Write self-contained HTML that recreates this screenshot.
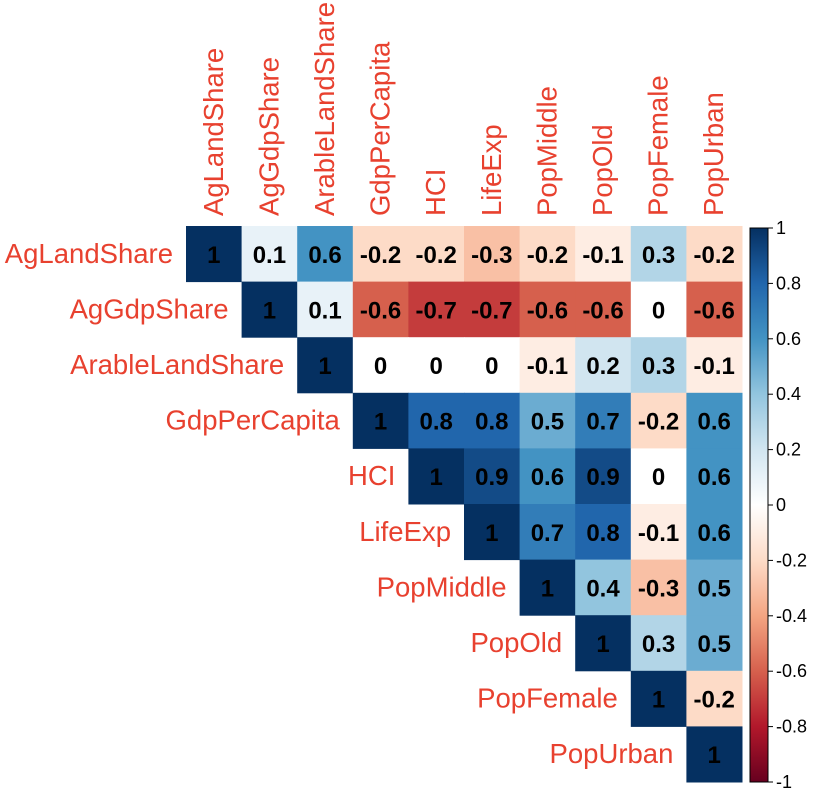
<!DOCTYPE html>
<html><head><meta charset="utf-8"><style>
html,body{margin:0;padding:0;background:#fff;width:820px;height:796px;overflow:hidden}
svg{display:block;font-family:"Liberation Sans",Arial,sans-serif}
</style></head><body>
<svg id="chart" width="820" height="796" viewBox="0 0 820 796"></svg>
<script>
const variables=["AgLandShare","AgGdpShare","ArableLandShare","GdpPerCapita","HCI","LifeExp","PopMiddle","PopOld","PopFemale","PopUrban"];
const row0=[1,0.1,0.6,-0.2,-0.2,-0.3,-0.2,-0.1,0.3,-0.2];
const row1=[1,0.1,-0.6,-0.7,-0.7,-0.6,-0.6,0,-0.6];
const row2=[1,0,0,0,-0.1,0.2,0.3,-0.1];
const row3=[1,0.8,0.8,0.5,0.7,-0.2,0.6];
const row4=[1,0.9,0.6,0.9,0,0.6];
const row5=[1,0.7,0.8,-0.1,0.6];
const row6=[1,0.4,-0.3,0.5];
const row7=[1,0.3,0.5];
const row8=[1,-0.2];
const row9=[1];
const rows=[row0,row1,row2,row3,row4,row5,row6,row7,row8,row9];
const legendTicks=[1,0.8,0.6,0.4,0.2,0,-0.2,-0.4,-0.6,-0.8,-1];
const pal=["#67001F","#B2182B","#D6604D","#F4A582","#FDDBC7","#FFFFFF","#D1E5F0","#92C5DE","#4393C3","#2166AC","#053061"];
function hex(h){return [1,3,5].map(i=>parseInt(h.substr(i,2),16));}
function color(v){const t=(v+1)/2*10;const i=Math.min(9,Math.floor(t));const f=t-i;const a=hex(pal[i]),b=hex(pal[i+1]);return "rgb("+a.map((c,k)=>Math.round(c+(b[k]-c)*f)).join(",")+")";}
const NS="http://www.w3.org/2000/svg";
const svg=document.getElementById("chart");
const X0=186,Y0=226,CW=55.6,CH=55.6;
const xs=j=>X0+j*CW, ys=i=>Y0+i*CH;
function mk(tag,attrs,parent){const e=document.createElementNS(NS,tag);for(const k in attrs)e.setAttribute(k,attrs[k]);(parent||svg).appendChild(e);return e;}
const labRed="#E8412F";
rows.forEach((r,i)=>{r.forEach((v,k)=>{const j=i+k;
 const rc=mk("rect",{x:xs(j),y:ys(i),width:CW+0.5,height:CH+0.5,fill:color(v)});
 
 
 const t=mk("text",{x:xs(j)+CW/2,y:ys(i)+CH/2+9,"text-anchor":"middle","font-size":"24","font-weight":"bold",fill:"#000"});
 t.textContent=String(v);
 
 
});});
variables.forEach((n,i)=>{
 const t=mk("text",{x:xs(i)-13,y:ys(i)+CH/2+9,"text-anchor":"end","font-size":"27.5",fill:labRed});
 t.textContent=n;
 
 
 const cx=xs(i)+CW/2+9, cy=Y0-10;
 const c=mk("text",{x:cx,y:cy,"text-anchor":"start","font-size":"27.5",fill:labRed,transform:"rotate(-90 "+cx+" "+cy+")"});
 c.textContent=n;
 
 
});
const LX=750,LW=18,LT=228,LB=782;
const defs=mk("defs",{});
const g=mk("linearGradient",{id:"cb",x1:"0",y1:"0",x2:"0",y2:"1"},defs);
for(let s=0;s<=20;s++){const v=1-s/10;mk("stop",{offset:(s/20),"stop-color":color(v)},g);}
const bar=mk("rect",{x:LX,y:LT,width:LW,height:LB-LT,fill:"url(#cb)",stroke:"#000","stroke-width":"1"});


const ly=v=>LT+(1-v)/2*(LB-LT);
legendTicks.forEach(v=>{
 mk("line",{x1:LX+LW,x2:LX+LW+5,y1:ly(v),y2:ly(v),stroke:"#000","stroke-width":"1"});
 const t=mk("text",{x:LX+LW+8,y:ly(v)+6,"font-size":"18",fill:"#000"});
 t.textContent=String(v);
 
 
});
</script>
</body></html>
